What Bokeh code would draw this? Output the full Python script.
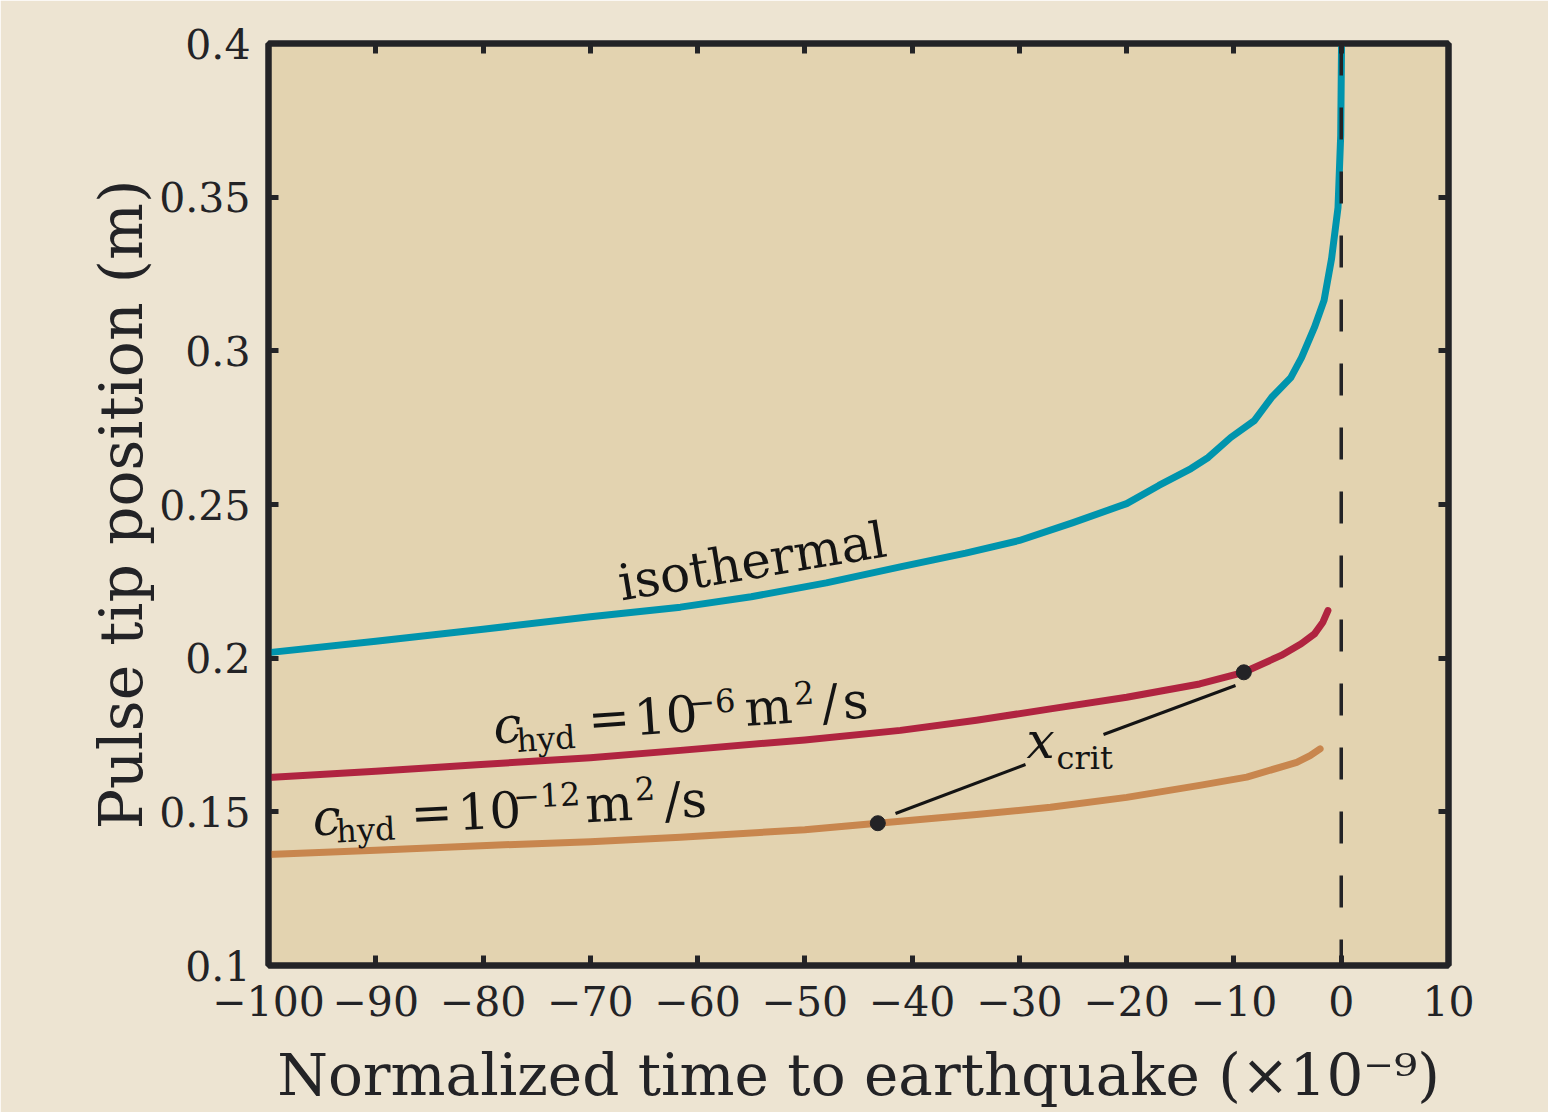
import math
from bokeh.plotting import figure
from bokeh.models import LinearAxis, FixedTicker, CustomJSTickFormatter, Range1d
from bokeh.core.properties import value
from bokeh.embed import file_html
from bokeh.resources import INLINE

# ---------------- data ----------------
iso_t = [-100, -90, -80, -70, -61.6, -55, -48, -41, -35, -30, -25, -20, -17, -14, -12.4,
         -10.3, -8.1, -6.5, -4.7, -3.7, -2.5, -1.6, -0.9, -0.3, -0.05, 0.03]
iso_x = [0.2018, 0.2055, 0.2094, 0.2135, 0.2166, 0.2200, 0.2245, 0.2298, 0.2342, 0.2383,
         0.2441, 0.2503, 0.2562, 0.2617, 0.2653, 0.2718, 0.2773, 0.2848, 0.2913, 0.2978,
         0.3076, 0.3164, 0.3300, 0.3466, 0.3700, 0.4000]

hyd6_t = [-100, -90, -80.2, -70, -61.6, -50, -41.1, -34, -27.1, -20, -13.2, -9.08, -5.6,
          -3.73, -2.49, -1.71, -1.24]
hyd6_x = [0.1612, 0.1632, 0.1654, 0.1676, 0.1700, 0.1734, 0.1765, 0.1798, 0.1835, 0.1873,
          0.1916, 0.1954, 0.2009, 0.2047, 0.2079, 0.2117, 0.2155]

hyd12_t = [-100, -90, -80.2, -70, -61.6, -50, -43.2, -41.1, -34, -27.1, -20, -13.2, -8.8,
           -4.15, -2.9, -1.97]
hyd12_x = [0.1361, 0.1375, 0.1390, 0.1403, 0.1417, 0.1442, 0.1463, 0.1469, 0.1491, 0.1515,
           0.1547, 0.1586, 0.1613, 0.1661, 0.1683, 0.1705]

crit_t = [-9.08, -43.2]
crit_x = [0.1954, 0.1463]

x_ticks = [-100, -90, -80, -70, -60, -50, -40, -30, -20, -10, 0, 10]
x_tick_labels = ["\u2212100", "\u221290", "\u221280", "\u221270", "\u221260", "\u221250",
                 "\u221240", "\u221230", "\u221220", "\u221210", "0", "10"]
y_ticks = [0.1, 0.15, 0.2, 0.25, 0.3, 0.35, 0.4]
y_tick_labels = ["0.1", "0.15", "0.2", "0.25", "0.3", "0.35", "0.4"]

x_label = "Normalized time to earthquake (\u00d710\u207b\u2079)"
y_label = "Pulse tip position (m)"

# ---------------- layout / style ----------------
W, H = 1548, 1112
FL, FR, FT, FB = 268, 1448, 43, 965
X0, X1, Y0, Y1 = -100, 10, 0.1, 0.4

OUTER = "#EDE4D2"
INNER = "#E3D3B0"
DARK = "#232326"
INK = "#141414"
TEAL = "#0094AD"
RED = "#B02440"
ORANGE = "#C8864E"
FONT = "DejaVu Serif"
BASE_FIX = 0.34   # baseline correction, fraction of font size


def to_data(px, py):
    return (X0 + (px - FL) / (FR - FL) * (X1 - X0),
            Y1 - (py - FT) / (FB - FT) * (Y1 - Y0))


p = figure(width=W, height=H, output_backend="svg", toolbar_location=None,
           x_range=Range1d(X0, X1), y_range=Range1d(Y0, Y1),
           x_axis_location=None, y_axis_location=None,
           min_border_left=FL, min_border_right=W - FR,
           min_border_top=FT, min_border_bottom=H - FB)
p.background_fill_color = INNER
p.border_fill_color = OUTER
p.outline_line_color = DARK
p.outline_line_width = 6
p.xgrid.visible = False
p.ygrid.visible = False


def style_axis(ax, ticks, labels, show):
    ax.ticker = FixedTicker(ticks=ticks)
    ax.axis_line_color = DARK
    ax.axis_line_width = 6
    ax.major_tick_line_color = DARK
    ax.major_tick_line_width = 5
    ax.major_tick_in = 10
    ax.major_tick_out = 0
    ax.minor_tick_line_color = None
    if show:
        ax.major_label_overrides = {t: l for t, l in zip(ticks, labels)}
        ax.major_label_text_font = FONT
        ax.major_label_text_font_size = "41px"
        ax.major_label_text_color = DARK
    else:
        ax.formatter = CustomJSTickFormatter(code="return ''")
        ax.major_label_text_font_size = "1px"
        ax.major_label_standoff = 0


xb = LinearAxis()
style_axis(xb, x_ticks, x_tick_labels, True)
xb.major_label_standoff = 20
xb.axis_label = x_label
xb.axis_label_text_font = FONT
xb.axis_label_text_font_size = "58px"
xb.axis_label_text_font_style = "normal"
xb.axis_label_text_color = DARK
xb.axis_label_standoff = 22
p.add_layout(xb, "below")

yl = LinearAxis()
style_axis(yl, y_ticks, y_tick_labels, True)
yl.major_label_standoff = 18
yl.axis_label = y_label
yl.axis_label_text_font = FONT
yl.axis_label_text_font_size = "60px"
yl.axis_label_text_font_style = "normal"
yl.axis_label_text_color = DARK
yl.axis_label_standoff = 0
p.add_layout(yl, "left")

xa = LinearAxis()
style_axis(xa, x_ticks, x_tick_labels, False)
p.add_layout(xa, "above")
yr = LinearAxis()
style_axis(yr, y_ticks, y_tick_labels, False)
p.add_layout(yr, "right")

# ---------------- curves ----------------
p.line(iso_t, iso_x, line_color=TEAL, line_width=7, line_cap="round", line_join="round")
p.line(hyd6_t, hyd6_x, line_color=RED, line_width=7, line_cap="round", line_join="round")
p.line(hyd12_t, hyd12_x, line_color=ORANGE, line_width=7, line_cap="round", line_join="round")

# earthquake time marker
p.line([0, 0], [Y1, Y0], line_color=DARK, line_width=3.5, line_dash="32 32")

# leader lines for x_crit (pixel endpoints of the annotation)
leaders_px = [((895, 813), (1025, 764)), ((1103, 734), (1235, 685))]
for (a, b) in leaders_px:
    (x0, y0), (x1, y1) = to_data(*a), to_data(*b)
    p.segment(x0=[x0], y0=[y0], x1=[x1], y1=[y1], line_color=INK, line_width=3)

p.scatter(crit_t, crit_x, size=15, marker="circle", fill_color=DARK, line_color=DARK)


# ---------------- text annotations ----------------
def rich_label(ax, ay, angle_deg, pieces):
    a = math.radians(angle_deg)
    for text, size, s, h, italic in pieces:
        hh = h + BASE_FIX * size
        px = ax + s * math.cos(a) - hh * math.sin(a)
        py = ay - s * math.sin(a) - hh * math.cos(a)
        dx, dy = to_data(px, py)
        p.text(x=[dx], y=[dy], text=[text], angle=a,
               text_font=value(FONT), text_font_size=f"{size}px",
               text_font_style="italic" if italic else "normal",
               text_color=INK, text_align="left", text_baseline="alphabetic")


rich_label(621, 600, 9.45, [("isothermal", 50, 0, 0, False)])

rich_label(494, 743, 4.0, [
    ("c", 50, 0, 0, True),
    ("hyd", 32, 22, -10, False),
    ("=", 50, 95, 0, False),
    ("10", 50, 141, 0, False),
    ("\u22126", 32, 196, 16, False),
    ("m", 50, 252, 0, False),
    ("2", 32, 302, 18, False),
    ("/", 50, 329, 0, False),
    ("s", 50, 350, 0, False),
])

rich_label(313, 835, 2.8, [
    ("c", 50, 0, 0, True),
    ("hyd", 32, 23, -8, False),
    ("=", 50, 98, 0, False),
    ("10", 50, 145, 0, False),
    ("\u221212", 32, 201, 18, False),
    ("m", 50, 273, 0, False),
    ("2", 32, 323, 20, False),
    ("/", 50, 352, 0, False),
    ("s", 50, 369, 0, False),
])

rich_label(1026, 757, 0, [("x", 50, 0, 0, True)])
rich_label(1056, 768, 0, [("crit", 32, 0, 0, False)])

open("out.html", "w").write(file_html(p, INLINE))
